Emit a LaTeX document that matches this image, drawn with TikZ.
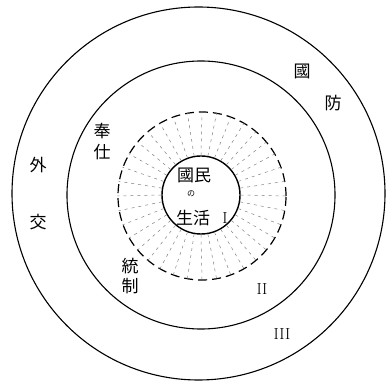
\documentclass[tikz,border=0pt]{standalone}
\usepackage{fontspec}
\newfontfamily\cjk{Noto Sans CJK JP}
\usetikzlibrary{positioning}
\tikzstyle{ring} = [circle, draw, line width=1.1pt, inner sep=0pt]
\tikzstyle{dashring} = [circle, draw, line width=1.2pt, inner sep=0pt, dash pattern=on 9pt off 5pt]
\tikzstyle{ray} = [draw, gray, line width=0.5pt, dash pattern=on 3pt off 4pt]
\tikzstyle{word} = [font=\cjk\fontsize{17}{17}\selectfont, inner sep=0pt]
\tikzstyle{num} = [font=\fontsize{16}{16}\selectfont, inner sep=0pt]

\begin{document}
\begin{tikzpicture}[x=1pt, y=-1pt]
\useasboundingbox (0,0) rectangle (386,382);
\node [ring, minimum size=373pt] (outer) at (198.5,193.5) {};
\node [ring, minimum size=268pt] (middle) at (201,195) {};
\node [dashring, minimum size=168pt] (ctrl) at (202,196) {};
\node [ring, minimum size=78pt, line width=1.4pt] (core) at (201,195) {};
\foreach \a in {0,10,...,350}
  \path [ray] (core.\a) -- (ctrl.\a);
% labels
\node [word] (guo) at (302,71) {國};
\node [word, below right=32pt and 31pt of guo.center, anchor=center] (fang) {防};
\node [word] (wai) at (38,165) {外};
\node [word] (jiao) at (38,222) {交};
\node [word] (feng) at (102,131) {奉};
\node [word] (shi) at (102,152) {仕};
\node [word] (tong) at (130,266) {統};
\node [word] (zhi) at (130,286) {制};
\node [word] (guomin) at (194,175) {國民};
\node [word, font=\cjk\fontsize{8}{8}\selectfont] (no) at (191,194) {の};
\node [word] (shenghuo) at (193,218) {生活};
\node [num] (one) at (225,218) {I};
\node [num] (two) at (262,289) {II};
\node [num] (three) at (282,334) {III};
\end{tikzpicture}
\end{document}
